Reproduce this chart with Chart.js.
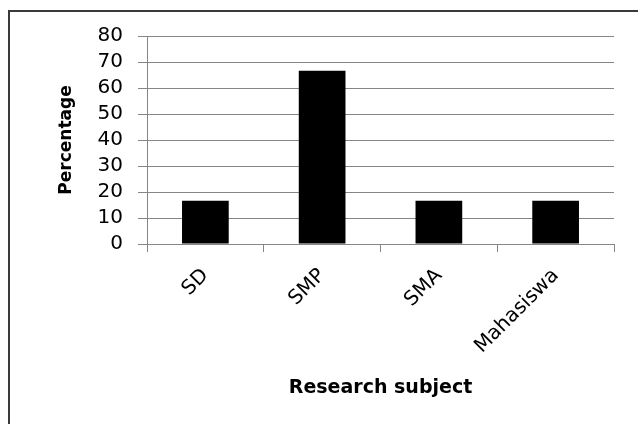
<!DOCTYPE html>
<html>
<head>
<meta charset="utf-8">
<script src="https://cdn.jsdelivr.net/npm/chart.js@4"></script>
<style>
  html, body { margin: 0; padding: 0; background: #fff; }
  #wrap { width: 638px; height: 424px; }
</style>
</head>
<body>
<div id="wrap"><canvas id="chart" width="638" height="424"></canvas></div>
<script>
const categories = ["SD", "SMP", "SMA", "Mahasiswa"];
const percentages = [16.67, 66.67, 16.67, 16.67];
const yTicks = [0, 10, 20, 30, 40, 50, 60, 70, 80];

const gray = "#868686";

// white background + the frame (only left and top edges are inside the picture)
const framePlugin = {
  id: "frame",
  beforeDraw(chart) {
    const ctx = chart.ctx;
    ctx.save();
    ctx.fillStyle = "#fff";
    ctx.fillRect(0, 0, chart.width, chart.height);
    ctx.strokeStyle = "#3a3a3a";
    ctx.lineWidth = 2;
    ctx.strokeRect(9, 11, 700, 600);
    ctx.restore();
  }
};

new Chart(document.getElementById("chart"), {
  type: "bar",
  data: {
    labels: categories,
    datasets: [{
      data: percentages,
      backgroundColor: "#000",
      borderWidth: 0,
      barPercentage: 0.4,
      categoryPercentage: 1
    }]
  },
  options: {
    responsive: false,
    animation: false,
    devicePixelRatio: 1,
    layout: { padding: { left: 0, right: 24, top: 36, bottom: 0 } },
    plugins: { legend: { display: false }, tooltip: { enabled: false } },
    scales: {
      x: {
        afterFit(scale) { scale.height = 180; },
        grid: { drawOnChartArea: false, offset: true, color: gray, tickLength: 8 },
        border: { color: gray, width: 1 },
        ticks: {
          color: "#000",
          font: { family: "DejaVu Sans", size: 20 },
          minRotation: 45,
          maxRotation: 45,
          autoSkip: false,
          padding: 12
        },
        title: {
          display: true,
          text: "Research subject",
          color: "#000",
          font: { family: "DejaVu Sans", size: 19, weight: "bold" },
          padding: { top: 0, bottom: 25 }
        }
      },
      y: {
        min: 0,
        max: 80,
        afterFit(scale) { scale.width = 147; },
        afterBuildTicks(scale) { scale.ticks = yTicks.map(v => ({ value: v })); },
        grid: { color: gray, tickLength: 9 },
        border: { color: gray, width: 1 },
        ticks: {
          color: "#000",
          font: { family: "DejaVu Sans", size: 20 },
          autoSkip: false,
          padding: 15
        },
        title: {
          display: true,
          text: "Percentage",
          color: "#000",
          font: { family: "DejaVu Sans", size: 17, weight: "bold" },
          padding: { top: 56, bottom: 0 }
        }
      }
    }
  },
  plugins: [framePlugin]
});
</script>
</body>
</html>
